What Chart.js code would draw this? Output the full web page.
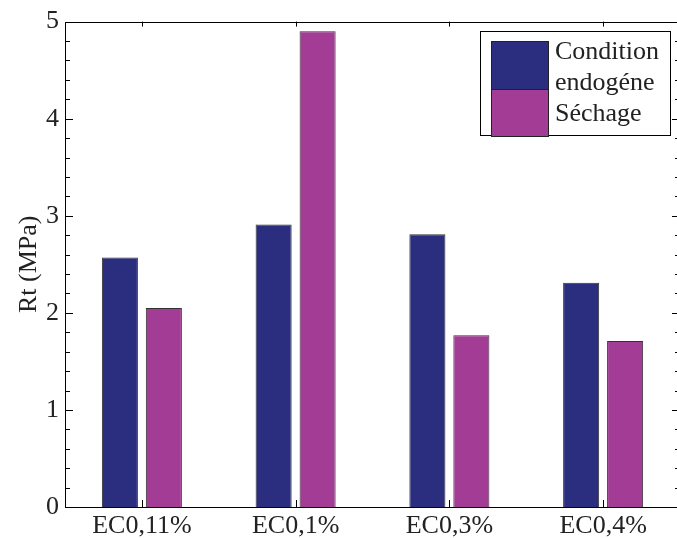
<!DOCTYPE html>
<html>
<head>
<meta charset="utf-8">
<script src="https://cdn.jsdelivr.net/npm/chart.js@4/dist/chart.umd.min.js"></script>
<style>
html,body{margin:0;padding:0;background:#fff;overflow:hidden;width:677px;height:538px;}
canvas{display:block;}
</style>
</head>
<body>
<canvas id="c" width="681" height="538"></canvas>
<script>
const categories = ["EC0,11%", "EC0,1%", "EC0,3%", "EC0,4%"];
const seriesNames = ["Condition endogéne", "Séchage"];
const legendLines = ["Condition", "endogéne", "Séchage"];
const conditionEndogene = [2.57, 2.91, 2.81, 2.31];
const sechage = [2.05, 4.90, 1.77, 1.71];
const yTicks = [0, 1, 2, 3, 4, 5];
const yTitle = "Rt (MPa)";

const BLUE = '#2b2d7e';
const MAGENTA = '#a33c94';
const FONT = '"Liberation Serif", "Times New Roman", serif';

const framePlugin = {
  id: 'frame',
  afterDraw(chart) {
    const ctx = chart.ctx;
    const a = chart.chartArea;
    const ys = chart.scales.y, xs = chart.scales.x;
    ctx.save();
    ctx.strokeStyle = '#000';
    ctx.lineWidth = 1;
    ctx.strokeRect(Math.round(a.left) + 0.5, Math.round(a.top) + 0.5, Math.round(a.right - a.left), Math.round(a.bottom - a.top));
    ctx.beginPath();
    for (let i = 0; i <= 25; i++) {
      const v = i * 0.2;
      const y = Math.round(ys.getPixelForValue(v)) + 0.5;
      const major = (i % 5 === 0);
      const len = major ? 8 : 5;
      ctx.moveTo(a.left, y); ctx.lineTo(a.left + len, y);
      ctx.moveTo(a.right, y); ctx.lineTo(a.right - len, y);
    }
    categories.forEach((c, i) => {
      const x = Math.round(xs.getPixelForValue(i)) + 0.5;
      ctx.moveTo(x, a.bottom); ctx.lineTo(x, a.bottom - 7);
      ctx.moveTo(x, a.top); ctx.lineTo(x, a.top + 5);
    });
    ctx.stroke();

    ctx.fillStyle = '#222';
    ctx.font = '26px ' + FONT;
    ctx.textAlign = 'center';
    ctx.textBaseline = 'middle';
    ctx.translate(29, (a.top + a.bottom) / 2);
    ctx.rotate(-Math.PI / 2);
    ctx.fillText(yTitle, 0, 0);
    ctx.restore();

    ctx.save();
    const lx = 480, ly = 31, lw = 190, lh = 104;
    ctx.fillStyle = '#fff';
    ctx.fillRect(lx, ly, lw, lh);
    ctx.strokeStyle = '#000';
    ctx.lineWidth = 1;
    ctx.strokeRect(lx + 0.5, ly + 0.5, lw, lh);
    ctx.fillStyle = BLUE;
    ctx.fillRect(491, 41, 57, 48);
    ctx.strokeStyle = '#222';
    ctx.strokeRect(491.5, 41.5, 57, 48);
    ctx.fillStyle = MAGENTA;
    ctx.fillRect(491, 89, 57, 47);
    ctx.strokeRect(491.5, 89.5, 57, 47);
    ctx.fillStyle = '#222';
    ctx.font = '26px ' + FONT;
    ctx.textAlign = 'left';
    ctx.textBaseline = 'alphabetic';
    const bl = [59, 90, 121];
    legendLines.forEach((t, i) => ctx.fillText(t, 555, bl[i]));
    ctx.restore();
  }
};

new Chart(document.getElementById('c'), {
  type: 'bar',
  data: {
    labels: categories,
    datasets: [
      { label: seriesNames[0], data: conditionEndogene, backgroundColor: BLUE, borderColor: '#333', borderWidth: 1,
        categoryPercentage: 0.572, barPercentage: 0.82 },
      { label: seriesNames[1], data: sechage, backgroundColor: MAGENTA, borderColor: '#333', borderWidth: 1,
        categoryPercentage: 0.572, barPercentage: 0.82 }
    ]
  },
  options: {
    responsive: false,
    animation: false,
    devicePixelRatio: 1,
    layout: { padding: { top: 20, right: 1, left: 0, bottom: 0 } },
    plugins: { legend: { display: false }, tooltip: { enabled: false }, title: { display: false } },
    scales: {
      x: {
        grid: { display: false, drawTicks: false },
        border: { display: false },
        ticks: { color: '#222', font: { family: FONT, size: 26 }, padding: 4, maxRotation: 0, autoSkip: false },
        afterFit(s) { s.height = 31; }
      },
      y: {
        min: 0, max: 5,
        grid: { display: false, drawTicks: false },
        border: { display: false },
        afterBuildTicks(s) { s.ticks = yTicks.map(v => ({ value: v })); },
        ticks: { color: '#222', font: { family: FONT, size: 26 }, padding: 6 },
        afterFit(s) { s.width = 65; }
      }
    }
  },
  plugins: [framePlugin]
});
</script>
</body>
</html>
